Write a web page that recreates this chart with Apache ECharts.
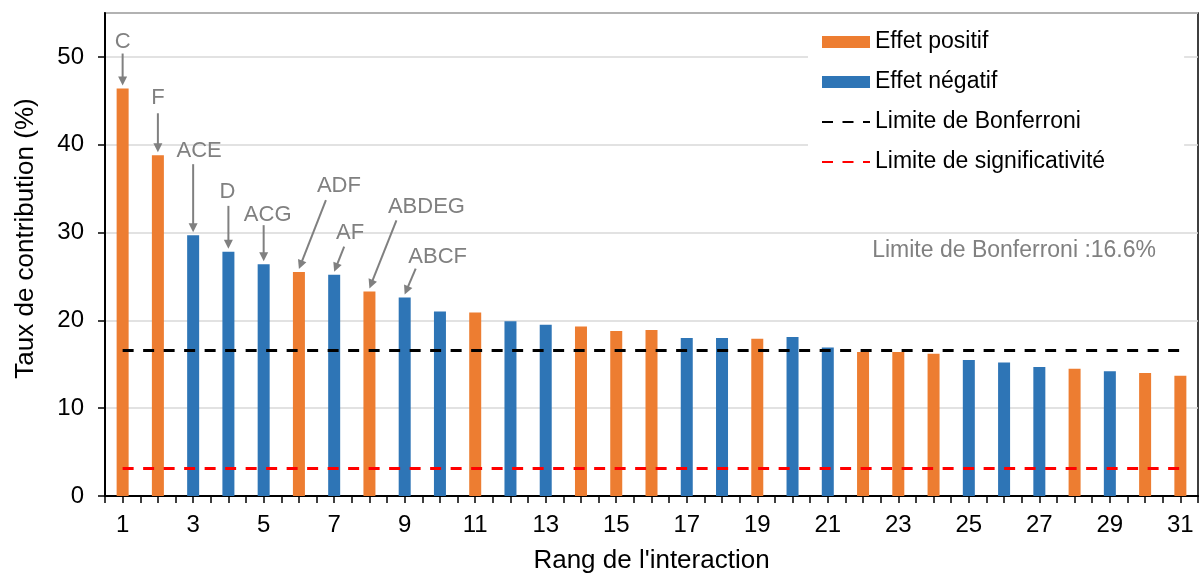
<!DOCTYPE html>
<html><head><meta charset="utf-8">
<script src="https://cdn.jsdelivr.net/npm/echarts@6/dist/echarts.min.js"></script>
<style>html,body{margin:0;padding:0;background:#fff}#c{width:1203px;height:579px}</style>
</head><body><div id="c"></div>
<script>
// ---------- data ----------
const categories = ['1','2','3','4','5','6','7','8','9','10','11','12','13','14','15','16','17','18','19','20','21','22','23','24','25','26','27','28','29','30','31'];
const contribution = [46.4, 38.8, 29.7, 27.8, 26.4, 25.5, 25.2, 23.3, 22.6, 21.0, 20.9, 19.9, 19.5, 19.3, 18.8, 18.9, 18.0, 18.0, 17.9, 18.1, 16.9, 16.4, 16.4, 16.2, 15.5, 15.2, 14.7, 14.5, 14.2, 14.0, 13.7];
const effectSign = ['+','+','-','-','-','+','-','+','-','-','+','-','-','+','+','+','-','-','+','-','-','+','+','+','-','-','-','+','-','+','+'];
const bonferroniLimit = 16.6;
const significanceLimit = 3.2;
const annotationLabels = ['C','F','ACE','D','ACG','ADF','AF','ABDEG','ABCF'];
const annotationRanks = ['1','2','3','4','5','6','7','8','9'];
const bonferroniNote = 'Limite de Bonferroni :16.6%';
const seriesNames = ['Effet positif','Effet négatif','Limite de Bonferroni','Limite de significativité'];

// ---------- styles ----------
const ORANGE = '#ED7D31', BLUE = '#2E75B6', GREY = '#808080';
const FONT = '"Liberation Sans", Arial, sans-serif';
// offsets (px) relative to arrow tip: [startDx, startDy, textDx, textDy]
const annotationOffsets = [
  [0,-32, 0,-44], [0,-39, 0,-54], [0,-68, 6,-81], [0,-43, -1,-57], [0,-36, 4,-46],
  [27,-69, 40,-83], [10,-25, 16,-39], [27,-68, 57,-81], [11,-26, 33,-38]
];

const positive = contribution.map((v,i)=> effectSign[i]==='+' ? v : null);
const negative = contribution.map((v,i)=> effectSign[i]==='-' ? v : null);
const tickCats = [];
for (let i = 0; i < categories.length*2; i++) tickCats.push(String(i));

const chart = echarts.init(document.getElementById('c'), null, {renderer:'canvas'});
const dash = [11, 9.5];
const hiddenSymbol = {color:'rgba(0,0,0,0)', borderColor:'rgba(0,0,0,0)', borderWidth:0, opacity:0};
const gridRect = {left:105, right:5, top:13, bottom:83};
const option = {
  animation:false,
  textStyle:{fontFamily:FONT},
  grid:[
    Object.assign({show:true, borderColor:'#000', borderWidth:1.5, backgroundColor:'transparent'}, gridRect),
    Object.assign({show:false}, gridRect)
  ],
  legend:{
    orient:'vertical', left:808, top:20, padding:[8,79,10,13],
    backgroundColor:'#fff', itemWidth:48, itemHeight:12, itemGap:12, selectedMode:false,
    textStyle:{fontSize:23, lineHeight:28, color:'#000', fontFamily:FONT},
    data:[
      {name:seriesNames[0], icon:'rect'},
      {name:seriesNames[1], icon:'rect'},
      {name:seriesNames[2], itemStyle:hiddenSymbol},
      {name:seriesNames[3], itemStyle:hiddenSymbol}
    ]
  },
  xAxis:[
    {type:'category', data:categories, gridIndex:0, boundaryGap:true,
     axisLine:{lineStyle:{color:'#000', width:2}},
     axisTick:{show:false},
     axisLabel:{interval:1, fontSize:24, color:'#000', margin:17, fontFamily:FONT},
     name:"Rang de l'interaction", nameLocation:'middle', nameGap:52,
     nameTextStyle:{fontSize:26, color:'#000', fontFamily:FONT}},
    {type:'category', data:tickCats, gridIndex:1, boundaryGap:true,
     axisLine:{show:false}, axisLabel:{show:false},
     axisTick:{show:true, length:7, lineStyle:{color:'#000', width:1.5}}}
  ],
  yAxis:[
    {type:'value', min:0, max:55, interval:10, gridIndex:0,
     axisLine:{show:true, lineStyle:{color:'#000', width:2}},
     axisTick:{show:true, length:7, lineStyle:{color:'#000', width:1.5}},
     axisLabel:{fontSize:24, color:'#000', margin:21, showMaxLabel:false, fontFamily:FONT},
     splitLine:{lineStyle:{color:'#D9D9D9', width:1.5}},
     name:'Taux de contribution (%)', nameLocation:'middle', nameGap:66,
     nameTextStyle:{fontSize:26, color:'#000', fontFamily:FONT, padding:[0,0,0,32]}},
    {type:'value', min:0, max:55, gridIndex:1, show:false}
  ],
  series:[
    {name:seriesNames[0], type:'bar', data:positive, barWidth:12, barGap:'-100%',
     itemStyle:{color:ORANGE}},
    {name:seriesNames[1], type:'bar', data:negative, barWidth:12, barGap:'-100%',
     itemStyle:{color:BLUE}},
    {name:seriesNames[2], type:'line', data:[], symbol:'none', color:'#000',
     lineStyle:{color:'#000', width:3, type:dash},
     markLine:{silent:true, symbol:'none', label:{show:false},
       lineStyle:{color:'#000', width:3, type:dash},
       data:[[{coord:[categories[0], bonferroniLimit]},{coord:[categories[categories.length-1], bonferroniLimit]}]]}},
    {name:seriesNames[3], type:'line', data:[], symbol:'none', color:'#FF0000',
     lineStyle:{color:'#FF0000', width:3, type:dash},
     markLine:{silent:true, symbol:'none', label:{show:false},
       lineStyle:{color:'#FF0000', width:3, type:dash},
       data:[[{coord:[categories[0], significanceLimit]},{coord:[categories[categories.length-1], significanceLimit]}]]}}
  ]
};
chart.setOption(option);

// annotations positioned through the chart's scales
const graphics = [];
annotationLabels.forEach((lab, k) => {
  const idx = categories.indexOf(annotationRanks[k]);
  const p = chart.convertToPixel({xAxisIndex:0, yAxisIndex:0}, [idx, contribution[idx]]);
  const tip = [p[0], p[1]-3];
  const o = annotationOffsets[k];
  const start = [tip[0]+o[0], tip[1]+o[1]];
  const dx = tip[0]-start[0], dy = tip[1]-start[1];
  const len = Math.sqrt(dx*dx+dy*dy), ux = dx/len, uy = dy/len;
  const headL = 9, headW = 4.5;
  const base = [tip[0]-ux*headL, tip[1]-uy*headL];
  graphics.push({type:'line', silent:true, shape:{x1:start[0], y1:start[1], x2:base[0]+ux*1, y2:base[1]+uy*1},
    style:{stroke:GREY, lineWidth:2}});
  graphics.push({type:'polygon', silent:true, shape:{points:[tip, [base[0]-uy*headW, base[1]+ux*headW], [base[0]+uy*headW, base[1]-ux*headW]]},
    style:{fill:GREY}});
  graphics.push({type:'text', silent:true, x:tip[0]+o[2], y:tip[1]+o[3],
    style:{text:lab, fill:GREY, font:'22px '+FONT, align:'center', verticalAlign:'middle', textAlign:'center', textVerticalAlign:'middle'}});
});
graphics.push({type:'text', silent:true, x:1156, y:251,
  style:{text:bonferroniNote, fill:GREY, font:'23px '+FONT, align:'right', verticalAlign:'middle', textAlign:'right', textVerticalAlign:'middle'}});
chart.setOption({graphic:graphics});
</script>
</body></html>
